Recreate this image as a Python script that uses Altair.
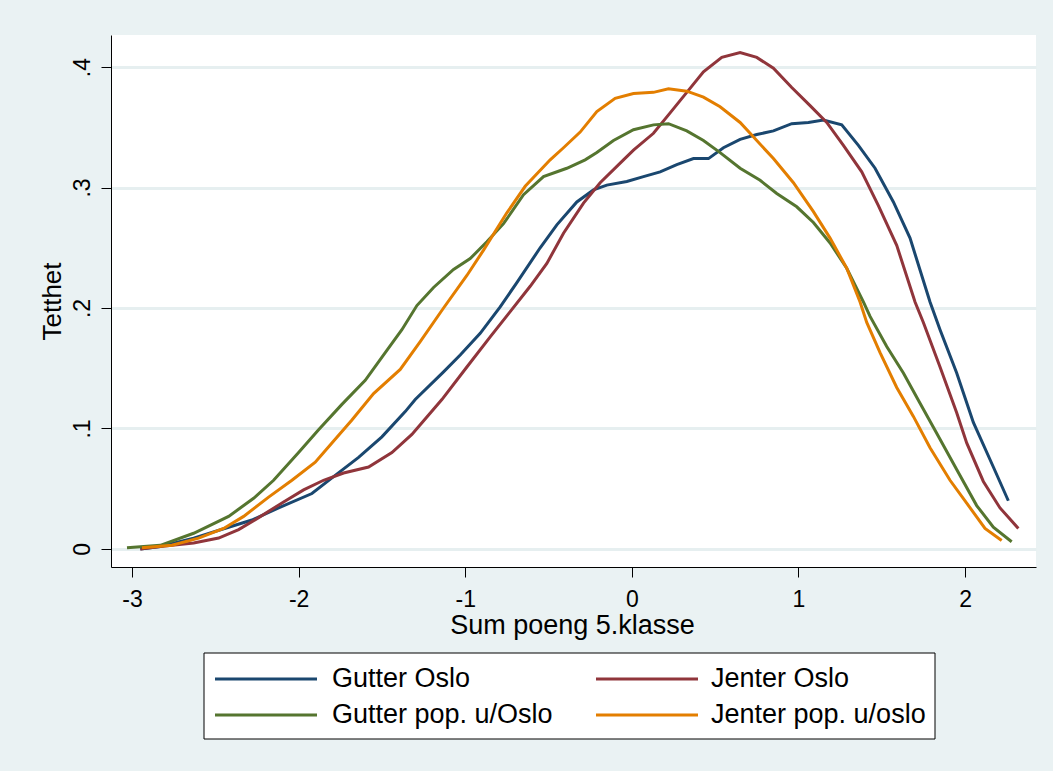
import altair as alt
import pandas as pd

# ---- data ----
series_names = ["Gutter Oslo", "Jenter Oslo", "Gutter pop. u/Oslo", "Jenter pop. u/oslo"]
series_colors = ["#1a476f", "#90353b", "#55752f", "#e37e00"]

blue_x = [-2.95, -2.83, -2.63, -2.42, -2.28, -2.12, -1.92, -1.79, -1.64, -1.50, -1.36, -1.30,
          -1.13, -1.03, -0.91, -0.79, -0.69, -0.55, -0.45, -0.33, -0.23, -0.15, -0.03, 0.07,
          0.17, 0.27, 0.37, 0.46, 0.55, 0.65, 0.75, 0.85, 0.96, 1.06, 1.15, 1.26, 1.36, 1.46,
          1.57, 1.67, 1.79, 1.85, 1.95, 2.05, 2.17, 2.26]
blue_y = [0.000, 0.002, 0.009, 0.018, 0.024, 0.034, 0.046, 0.060, 0.076, 0.093, 0.114, 0.124,
          0.147, 0.161, 0.179, 0.201, 0.221, 0.250, 0.269, 0.288, 0.298, 0.302, 0.305, 0.309,
          0.313, 0.319, 0.324, 0.324, 0.333, 0.340, 0.344, 0.347, 0.353, 0.354, 0.356, 0.352,
          0.335, 0.316, 0.288, 0.258, 0.205, 0.182, 0.146, 0.105, 0.068, 0.040]

maroon_x = [-2.95, -2.83, -2.63, -2.48, -2.36, -2.24, -2.09, -1.97, -1.85, -1.73, -1.58, -1.44,
            -1.32, -1.27, -1.14, -0.99, -0.85, -0.73, -0.61, -0.51, -0.41, -0.29, -0.19, -0.05,
            0.01, 0.13, 0.23, 0.33, 0.43, 0.54, 0.65, 0.75, 0.85, 0.96, 1.07, 1.17, 1.27,
            1.38, 1.48, 1.59, 1.70, 1.75, 1.85, 1.95, 2.01, 2.11, 2.21, 2.32]
maroon_y = [0.000, 0.002, 0.005, 0.009, 0.016, 0.026, 0.039, 0.049, 0.057, 0.063, 0.068, 0.080,
            0.095, 0.103, 0.124, 0.151, 0.176, 0.197, 0.218, 0.237, 0.262, 0.287, 0.304, 0.323,
            0.331, 0.345, 0.362, 0.379, 0.396, 0.408, 0.412, 0.408, 0.399, 0.383, 0.368, 0.354,
            0.335, 0.313, 0.285, 0.252, 0.205, 0.188, 0.151, 0.113, 0.088, 0.056, 0.034, 0.017]

green_x = [-3.03, -2.83, -2.63, -2.42, -2.27, -2.15, -2.00, -1.88, -1.74, -1.60, -1.48, -1.38,
           -1.29, -1.19, -1.07, -0.97, -0.87, -0.77, -0.65, -0.53, -0.39, -0.28, -0.21, -0.11,
           0.01, 0.13, 0.22, 0.33, 0.43, 0.53, 0.65, 0.77, 0.87, 0.99, 1.09, 1.19, 1.29, 1.39,
           1.43, 1.53, 1.63, 1.73, 1.83, 1.95, 2.07, 2.17, 2.28]
green_y = [0.001, 0.003, 0.013, 0.027, 0.042, 0.057, 0.080, 0.099, 0.120, 0.140, 0.163, 0.182,
           0.202, 0.217, 0.232, 0.241, 0.255, 0.270, 0.294, 0.309, 0.316, 0.323, 0.329, 0.339,
           0.348, 0.352, 0.353, 0.347, 0.339, 0.329, 0.316, 0.306, 0.295, 0.284, 0.271, 0.254,
           0.233, 0.205, 0.193, 0.168, 0.146, 0.121, 0.096, 0.066, 0.036, 0.018, 0.006]

orange_x = [-2.94, -2.76, -2.60, -2.45, -2.33, -2.18, -2.04, -1.90, -1.80, -1.68, -1.55, -1.39,
            -1.27, -1.13, -0.99, -0.89, -0.75, -0.64, -0.49, -0.41, -0.31, -0.21, -0.10,
            0.01, 0.13, 0.22, 0.33, 0.43, 0.53, 0.65, 0.71, 0.85, 0.97, 1.09, 1.19, 1.29, 1.37,
            1.41, 1.49, 1.59, 1.69, 1.79, 1.91, 2.01, 2.12, 2.22]
orange_y = [0.001, 0.003, 0.009, 0.017, 0.027, 0.043, 0.057, 0.072, 0.088, 0.107, 0.129, 0.149,
            0.172, 0.200, 0.227, 0.248, 0.279, 0.301, 0.323, 0.333, 0.346, 0.363, 0.374,
            0.378, 0.379, 0.382, 0.380, 0.375, 0.367, 0.354, 0.345, 0.324, 0.304, 0.280, 0.258,
            0.233, 0.205, 0.188, 0.163, 0.134, 0.110, 0.084, 0.057, 0.038, 0.017, 0.007]

x_ticks = [-3, -2, -1, 0, 1, 2]
y_ticks = [0, 0.1, 0.2, 0.3, 0.4]

rows = []
for name, xs, ys in [
    (series_names[0], blue_x, blue_y),
    (series_names[1], maroon_x, maroon_y),
    (series_names[2], green_x, green_y),
    (series_names[3], orange_x, orange_y),
]:
    for i, (xv, yv) in enumerate(zip(xs, ys)):
        rows.append({"serie": name, "x": xv, "y": yv, "ord": i})
df = pd.DataFrame(rows)

legend_df = pd.DataFrame({
    "serie": series_names,
    "color": series_colors,
    "col": [i % 2 for i in range(len(series_names))],
    "row": [i // 2 for i in range(len(series_names))],
})

FONT = "Liberation Sans"

lines = alt.Chart(df).mark_line(strokeWidth=3, clip=True).encode(
    x=alt.X(
        "x:Q",
        scale=alt.Scale(domain=[-3.126, 2.426], nice=False, zero=False),
        axis=alt.Axis(
            values=x_ticks, title="Sum poeng 5.klasse", grid=False,
            labelFontSize=23, titleFontSize=27, labelFont=FONT, titleFont=FONT,
            titleFontWeight="normal", labelColor="#000", titleColor="#000",
            tickSize=10, tickColor="#000", domainColor="#000", labelPadding=11,
            titleX=461, titleY=66, titleBaseline="alphabetic", titleAlign="center",
            labelExpr="'' + datum.value",
        ),
    ),
    y=alt.Y(
        "y:Q",
        scale=alt.Scale(domain=[-0.015, 0.4266], nice=False, zero=False),
        axis=alt.Axis(
            values=y_ticks, title="Tetthet", grid=True, gridColor="#e6eff0", gridWidth=3,
            labelFontSize=23, titleFontSize=26, labelFont=FONT, titleFont=FONT,
            titleFontWeight="normal", labelColor="#000", titleColor="#000",
            tickSize=10, tickColor="#000", domainColor="#000",
            labelAngle=270, labelAlign="center", labelBaseline="alphabetic", labelPadding=12,
            labelExpr="datum.value == 0 ? '0' : replace(format(datum.value, '.1f'), '0.', '.')",
            titleAngle=270, titleX=-51, titleY=266, titleBaseline="alphabetic", titleAlign="center",
        ),
    ),
    color=alt.Color(
        "serie:N",
        scale=alt.Scale(domain=series_names, range=series_colors),
        legend=None,
    ),
    order="ord:Q",
)

# legend drawn below the plot area (pixel layout relative to plot origin)
box = alt.Chart(pd.DataFrame({"a": [0]})).mark_rect(
    fill="white", stroke="#000", strokeWidth=1
).encode(x=alt.value(93), x2=alt.value(824), y=alt.value(618), y2=alt.value(704))

leg_base = alt.Chart(legend_df).transform_calculate(
    lx1="104 + datum.col * 381",
    lx2="206 + datum.col * 381",
    tx="221 + datum.col * 379",
    ly="644 + datum.row * 36",
)

leg_rules = leg_base.mark_rule(strokeWidth=3).encode(
    x=alt.X("lx1:Q", scale=None, axis=None),
    x2="lx2:Q",
    y=alt.Y("ly:Q", scale=None, axis=None),
    color=alt.Color("color:N", scale=None, legend=None),
)

leg_text = leg_base.mark_text(
    align="left", baseline="middle", fontSize=27, font=FONT, color="#000"
).encode(
    x=alt.X("tx:Q", scale=None, axis=None),
    y=alt.Y("ly:Q", scale=None, axis=None),
    text="serie:N",
)

chart = alt.layer(lines, box, leg_rules, leg_text).resolve_scale(
    x="independent", y="independent", color="independent"
).properties(
    width=925, height=532,
    autosize=alt.AutoSizeParams(type="none"),
    padding={"left": 111, "top": 35, "right": 17, "bottom": 204},
    background="#eaf2f3",
).configure_view(fill="white", stroke=None)

chart.save("out.html", embed_options={"renderer": "svg", "actions": False})
